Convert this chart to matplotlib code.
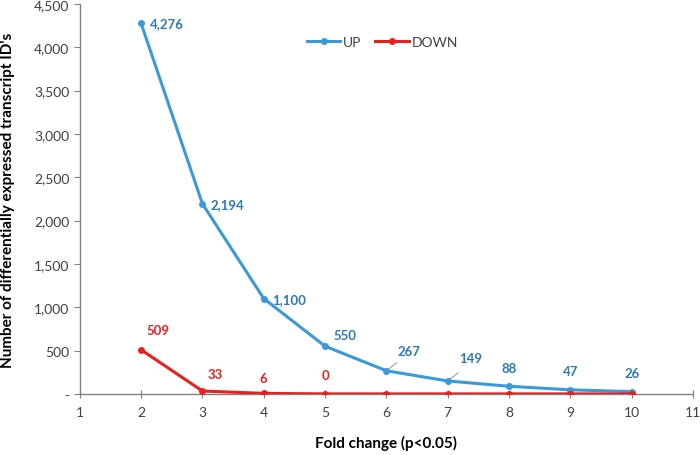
import matplotlib
matplotlib.use("Agg")
import matplotlib.pyplot as plt
from matplotlib.ticker import FuncFormatter

fold = [2, 3, 4, 5, 6, 7, 8, 9, 10]
up = [4276, 2194, 1100, 550, 267, 149, 88, 47, 26]
down = [509, 33, 6, 0, 0, 0, 0, 0, 0]
down_labels = ["509", "33", "6", "0", None, None, None, None, None]
up_labels = ["4,276", "2,194", "1,100", "550", "267", "149", "88", "47", "26"]

plt.rcParams['font.family'] = ['Lato', 'DejaVu Sans']

blue = "#3A9AD9"
blue_txt = "#2A7AB5"
red = "#E8201E"

fig = plt.figure(figsize=(7.0, 4.56), dpi=100)
ax = fig.add_axes([0.114, 0.134, 0.876, 0.855])

ax.plot(fold, up, color=blue, lw=2.2, marker='o', ms=4, label="UP", zorder=3)
ax.plot(fold, down, color=red, lw=2.2, marker='o', ms=4, label="DOWN", zorder=4)

# label offsets in points
up_off = [(6, 0), (6, 0), (6, 0), (6, 4), (8, 10), (8, 12), (0, 9), (0, 9), (0, 9)]
up_ha = ['left', 'left', 'left', 'left', 'left', 'left', 'center', 'center', 'center']
up_va = ['center', 'center', 'center', 'bottom', 'bottom', 'bottom', 'bottom', 'bottom', 'bottom']
for i, (x, y, t) in enumerate(zip(fold, up, up_labels)):
    ax.annotate(t, (x, y), xytext=up_off[i], textcoords='offset points',
                ha=up_ha[i], va=up_va[i], color=blue_txt, fontsize=9.5, fontweight='bold')
    if i in (4, 5):
        ax.annotate("", (x, y), xytext=(9, 7), textcoords='offset points',
                    arrowprops=dict(arrowstyle='-', color='#A0A0A0', lw=0.8))

down_off = [(4, 10), (4, 8), (0, 7), (0, 9)]
down_ha = ['left', 'left', 'center', 'center']
for i, (x, y, t) in enumerate(zip(fold, down, down_labels)):
    if t is None:
        continue
    ax.annotate(t, (x, y), xytext=down_off[i], textcoords='offset points',
                ha=down_ha[i], va='bottom', color=red, fontsize=9.5, fontweight='bold')

ax.set_xlim(1, 11)
ax.set_ylim(0, 4500)
ax.set_xticks(range(1, 12))
ax.set_yticks(range(0, 4501, 500))
ax.yaxis.set_major_formatter(FuncFormatter(lambda v, p: "-" if v == 0 else f"{int(v):,}"))

for s in ['top', 'right']:
    ax.spines[s].set_visible(False)
for s in ['left', 'bottom']:
    ax.spines[s].set_color('#808080')
    ax.spines[s].set_linewidth(1.0)
ax.tick_params(axis='both', colors='#808080', labelcolor='#404040', labelsize=10, length=4)
ax.tick_params(axis='x', direction='inout', length=6, pad=6)

ax.set_xlabel("Fold change (p<0.05)", fontsize=11, fontweight='bold', labelpad=12)
ax.set_ylabel("Number of differentially expressed transcript ID's", fontsize=11,
              fontweight='bold', labelpad=14)

ax.legend(loc='upper left', bbox_to_anchor=(0.35, 0.95), ncol=2, frameon=False,
          fontsize=10, handlelength=2.4, columnspacing=1.0, handletextpad=0.2,
          labelcolor='#404040')

fig.savefig("out.png", dpi=100)
